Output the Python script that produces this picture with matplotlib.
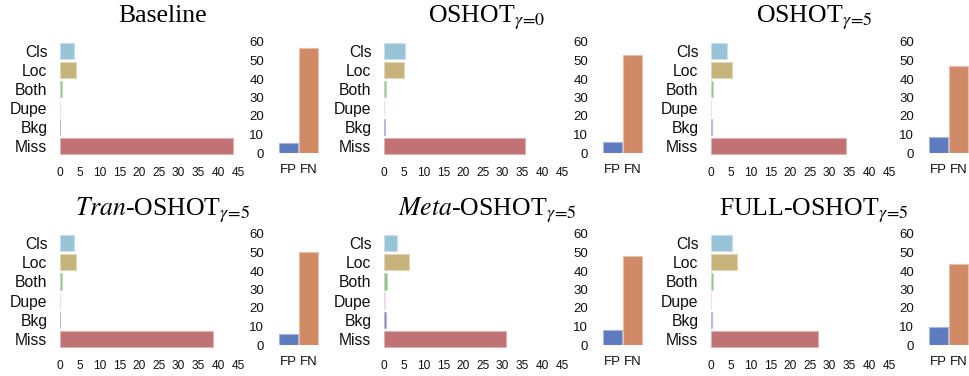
import matplotlib
matplotlib.use("Agg")
import matplotlib.pyplot as plt
from matplotlib.colors import to_rgb

plt.rcParams["mathtext.fontset"] = "stix"

# Error categories and their colours
categories = ["Cls", "Loc", "Both", "Dupe", "Bkg", "Miss"]
cat_colors = ["#98c4d8", "#c6b27b", "#8fc48b", "#dcc0e2", "#8a80ba", "#c07274"]
fpfn_labels = ["FP", "FN"]
fpfn_colors = ["#5f7bbf", "#d08b66"]

titles = [
    "Baseline",
    r"OSHOT$_{\gamma\!=\!0}$",
    r"OSHOT$_{\gamma\!=\!5}$",
    r"$\mathit{Tran}$-OSHOT$_{\gamma\!=\!5}$",
    r"$\mathit{Meta}$-OSHOT$_{\gamma\!=\!5}$",
    r"FULL-OSHOT$_{\gamma\!=\!5}$",
]

# Main error contributions (dAP) per method: Cls, Loc, Both, Dupe, Bkg, Miss
baseline = [3.5, 4.0, 0.4, 0.0, 0.0, 43.7]
oshot_g0 = [5.3, 5.0, 0.4, 0.0, 0.15, 35.6]
oshot_g5 = [4.1, 5.2, 0.5, 0.0, 0.15, 34.2]
tran_oshot = [3.5, 4.1, 0.4, 0.0, 0.0, 38.6]
meta_oshot = [3.4, 6.3, 0.75, 0.15, 0.5, 30.8]
full_oshot = [5.4, 6.6, 0.6, 0.0, 0.15, 27.0]

# False positive / false negative contributions per method
fp_values = [5.4, 6.1, 8.4, 6.0, 8.0, 9.9]
fn_values = [56.8, 53.2, 47.1, 50.1, 47.9, 43.6]

main_values = [baseline, oshot_g0, oshot_g5, tran_oshot, meta_oshot, full_oshot]

W, H = 970, 376
fig = plt.figure(figsize=(W / 100, H / 100), dpi=100)


def lighten(c, f=0.45):
    r, g, b = to_rgb(c)
    return (r + (1 - r) * f, g + (1 - g) * f, b + (1 - b) * f)


def px_axes(x0, y0, x1, y1):
    return fig.add_axes([x0 / W, 1 - y1 / H, (x1 - x0) / W, (y1 - y0) / H])


col_left = [60, 384, 711]
small_left = [278, 602, 928]
rows = [(41.5, 155.5, 42, 153, 22), (233.5, 348.5, 234, 345, 215)]

sans = ["Liberation Sans", "DejaVu Sans"]

for i in range(6):
    r, c = divmod(i, 3)
    hy0, hy1, sy0, sy1, ty = rows[r]

    # Horizontal bars of the individual error types
    ax = px_axes(col_left[c], hy0, col_left[c] + 178, hy1)
    ypos = list(range(len(categories)))
    ax.barh(ypos, main_values[i], height=0.85, color=cat_colors,
            edgecolor=[lighten(cc) for cc in cat_colors], linewidth=0.8)
    ax.set_ylim(len(categories) - 0.5, -0.5)
    ax.set_xlim(0, 45)
    ax.set_yticks(ypos)
    ax.set_yticklabels(categories, fontsize=11.3, family=sans, color="#111111")
    ax.set_xticks(range(0, 46, 5))
    ax.set_xticklabels([str(v) for v in range(0, 46, 5)], fontsize=8.6,
                       family=sans, color="#111111")
    ax.tick_params(axis="y", length=0, pad=9)
    ax.tick_params(axis="x", length=0, pad=8.5)
    for s in ax.spines.values():
        s.set_visible(False)

    # FP / FN summary bars
    ax2 = px_axes(small_left[c], sy0, small_left[c] + 41, sy1)
    ax2.bar([0, 1], [fp_values[i], fn_values[i]], width=0.92, color=fpfn_colors,
            edgecolor=[lighten(cc) for cc in fpfn_colors], linewidth=0.8)
    ax2.set_xlim(-0.5, 1.5)
    ax2.set_ylim(0, 60)
    ax2.set_xticks([0, 1])
    ax2.set_xticklabels(fpfn_labels, fontsize=9.5, family=sans, color="#111111")
    ax2.set_yticks(range(0, 61, 10))
    ax2.set_yticklabels([str(v) for v in range(0, 61, 10)], fontsize=9.5,
                        family=sans, color="#111111")
    ax2.tick_params(axis="y", length=0, pad=10)
    ax2.tick_params(axis="x", length=0, pad=8)
    for s in ax2.spines.values():
        s.set_visible(False)

    fig.text((col_left[c] + 103) / W, 1 - ty / H, titles[i], ha="center",
             va="baseline", fontsize=18.5, family="Liberation Serif")

fig.savefig("out.png", dpi=100)
